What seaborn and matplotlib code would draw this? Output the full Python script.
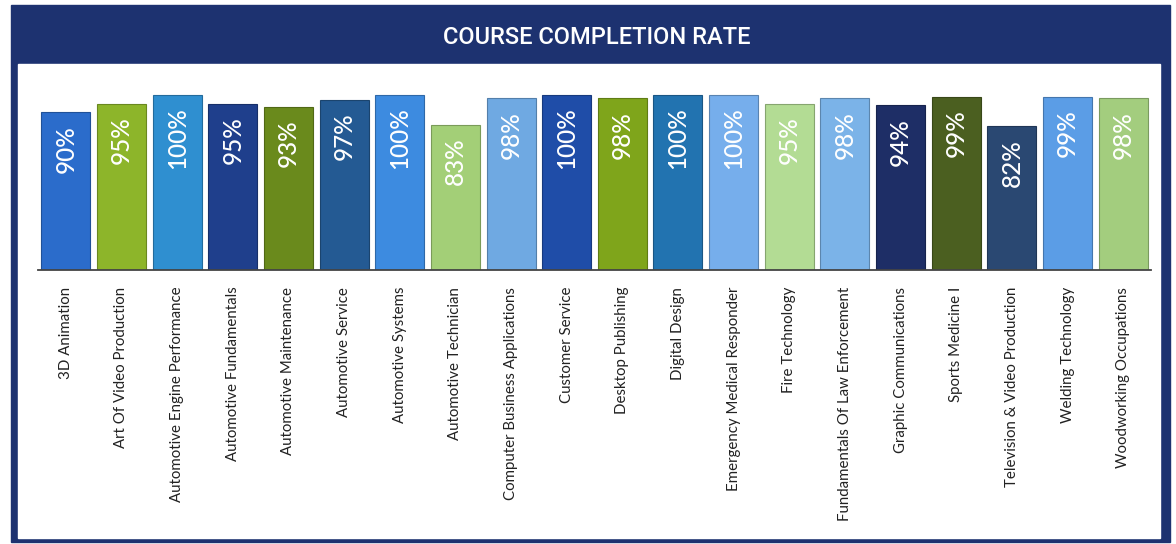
import pandas as pd
import matplotlib.pyplot as plt
import matplotlib.patches as mpatches
import matplotlib.colors as mcolors
import seaborn as sns

# Data
courses = [
    "3D Animation", "Art Of Video Production", "Automotive Engine Performance",
    "Automotive Fundamentals", "Automotive Maintenance", "Automotive Service",
    "Automotive Systems", "Automotive Technician", "Computer Business Applications",
    "Customer Service", "Desktop Publishing", "Digital Design",
    "Emergency Medical Responder", "Fire Technology", "Fundamentals Of Law Enforcement",
    "Graphic Communications", "Sports Medicine I", "Television & Video Production",
    "Welding Technology", "Woodworking Occupations",
]
rates = [90, 95, 100, 95, 93, 97, 100, 83, 98, 100,
         98, 100, 100, 95, 98, 94, 99, 82, 99, 98]
bar_colors = [
    "#2B6CCB", "#8DB52A", "#2F8FD0", "#1F3F8C", "#6A8A1C",
    "#245A93", "#3D8BE0", "#A3CF77", "#6FA9E2", "#1F4DA8",
    "#7FA51B", "#2273B0", "#76AEEC", "#B3DC94", "#7BB3E8",
    "#1E2E66", "#4B5F20", "#2A4872", "#5B9DE6", "#A3CD7E",
]

df = pd.DataFrame({"Course": courses, "Rate": [r / 100 for r in rates]})

sns.set_style("white")
plt.rcParams["font.family"] = ["Lato", "DejaVu Sans"]

W, H = 1176, 544
fig = plt.figure(figsize=(W / 100, H / 100), dpi=100, facecolor="white")

# navy frame + header, white inner panel (behind the axes)
navy = "#1D3270"
fig.patches.append(mpatches.Rectangle((11 / W, 1 - 542 / H), (1170 - 11) / W, (542 - 5) / H,
                                      transform=fig.transFigure, color=navy, zorder=-20))
fig.patches.append(mpatches.Rectangle((18 / W, 1 - 538 / H), (1160 - 18) / W, (538 - 64) / H,
                                      transform=fig.transFigure, color="white", zorder=-10))

fig.text(597 / W, 1 - 37 / H, "COURSE COMPLETION RATE", color="white",
         family=["Roboto", "DejaVu Sans"], fontsize=17, fontweight="medium",
         ha="center", va="center")

# axes: baseline at y=270, 100% at y=95
ymax = 1.1
bottom = 1 - 270 / H
height = 175 * ymax / H
ax = fig.add_axes([38 / W, bottom, (1151 - 38) / W, height])
ax.set_zorder(5)
ax.patch.set_alpha(0)

edge_colors = [tuple(c * 0.75 for c in mcolors.to_rgb(col)) for col in bar_colors]
sns.barplot(data=df, x="Course", y="Rate", hue="Course", palette=bar_colors,
            legend=False, width=0.88, saturation=1, ax=ax)
for patch, ec in zip(ax.patches, edge_colors):
    patch.set_edgecolor(ec)
    patch.set_linewidth(0.8)

for i, r in enumerate(rates):
    ax.annotate(f"{r}%", (i, r / 100), xytext=(0, -9), textcoords="offset points",
                rotation=90, ha="center", va="top", color="white", fontsize=17.5,
                fontweight="medium")

ax.set_xlim(-0.5, len(courses) - 0.5)
ax.set_ylim(0, ymax)
ax.set_yticks([])
ax.set_xlabel("")
ax.set_ylabel("")
for s in ["top", "right", "left"]:
    ax.spines[s].set_visible(False)
ax.spines["bottom"].set_color("#444444")
ax.spines["bottom"].set_linewidth(1.3)

ax.set_xticks(range(len(courses)))
ax.set_xticklabels(courses, rotation=90, fontsize=10.8, color="#222222")
ax.tick_params(axis="x", which="major", length=0, pad=12)
ax.set_xticks([i - 0.5 for i in range(len(courses) + 1)], minor=True)
ax.tick_params(axis="x", which="minor", length=5, width=1.3, color="#444444", direction="out")

fig.savefig("out.png", dpi=100, facecolor="white")
